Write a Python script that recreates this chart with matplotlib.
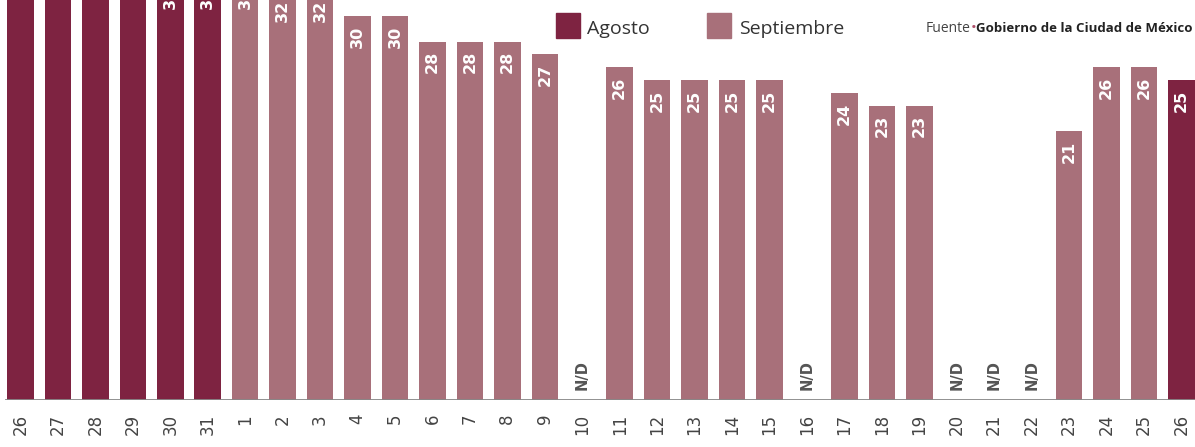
import matplotlib
matplotlib.use("Agg")
import matplotlib.pyplot as plt
from matplotlib.patches import Rectangle

# Data
days = ["26", "27", "28", "29", "30", "31",
        "1", "2", "3", "4", "5", "6", "7", "8", "9", "10",
        "11", "12", "13", "14", "15", "16", "17", "18", "19", "20",
        "21", "22", "23", "24", "25", "26"]
values = [35, 34, 34, 34, 33, 33,
          33, 32, 32, 30, 30, 28, 28, 28, 27, None,
          26, 25, 25, 25, 25, None, 24, 23, 23, None,
          None, None, 21, 26, 26, 25]
month = ["Agosto"] * 6 + ["Septiembre"] * 25 + ["Agosto"]

colors = {"Agosto": "#7e2341", "Septiembre": "#a8707a"}

W, H = 1195, 447
fig = plt.figure(figsize=(W / 100, H / 100), dpi=100)
base_px = 400
ax = fig.add_axes([0, (H - base_px) / H, 1, base_px / H])
ppu = 12.8
ax.set_ylim(0, base_px / ppu)
x0 = 20.5
step = 37.45
ax.set_xlim(-x0 / step, (W - x0) / step)

xs = list(range(len(days)))
for i, (v, m) in enumerate(zip(values, month)):
    if v is None:
        ax.text(i, 0.75, "N/D", rotation=90, ha="center", va="bottom",
                fontsize=10.5, fontweight="bold", color="#555555",
                family="DejaVu Sans")
    else:
        ax.bar(i, v, width=0.71, color=colors[m], linewidth=0)
        ax.text(i, v - 0.75, str(v), rotation=90, ha="center", va="top",
                fontsize=11.5, fontweight="bold", color="white",
                family="DejaVu Sans")

ax.axhline(0, color="#888888", lw=1.3, xmin=6 / W, xmax=1.0)
for s in ax.spines.values():
    s.set_visible(False)
ax.set_yticks([])
ax.set_xticks(xs)
ax.set_xticklabels(days, rotation=90, fontsize=12, color="#444444",
                   family="DejaVu Sans")
ax.tick_params(axis="x", length=0, pad=10)

# Legend
fig.patches.append(Rectangle((556 / W, 1 - 38 / H), 24 / W, 25 / H,
                             transform=fig.transFigure, color=colors["Agosto"]))
fig.text(587 / W, 1 - 29 / H, "Agosto", fontsize=14, color="#333333",
         va="center", ha="left", family="Open Sans")
fig.patches.append(Rectangle((707 / W, 1 - 38 / H), 24 / W, 25 / H,
                             transform=fig.transFigure, color=colors["Septiembre"]))
fig.text(739 / W, 1 - 29 / H, "Septiembre", fontsize=14, color="#333333",
         va="center", ha="left", family="Open Sans")

# Source
t1 = fig.text(1193 / W, 1 - 28 / H, "Gobierno de la Ciudad de México",
              fontsize=9.5, fontweight="bold", color="#222222",
              ha="right", va="center", family="Open Sans")
fig.canvas.draw()
bb = t1.get_window_extent()
t2 = fig.text(bb.x0 / W, 1 - 28 / H, "•", fontsize=11, color="#b0506a",
              ha="right", va="center", family="Open Sans")
fig.canvas.draw()
bb2 = t2.get_window_extent()
fig.text(bb2.x0 / W, 1 - 28 / H, "Fuente", fontsize=10, color="#444444",
         ha="right", va="center", family="Open Sans")

fig.savefig("out.png", dpi=100)
